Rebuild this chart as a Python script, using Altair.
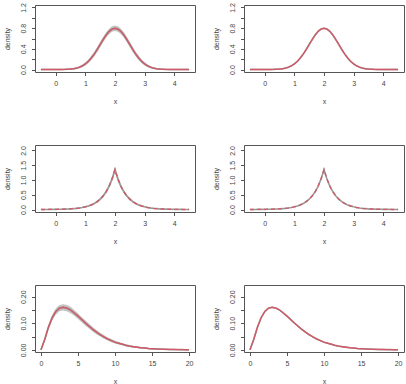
import altair as alt
import pandas as pd

# ---- data ----
x_sym = [round(-0.5 + 0.1 * i, 1) for i in range(51)]

norm_y = [0.000,0.000,0.000,0.000,0.000,0.000,0.001,0.001,0.002,0.005,0.009,0.016,0.027,0.045,0.071,0.108,0.158,0.222,0.299,0.388,0.484,0.579,0.666,0.737,0.782,
          0.798,
          0.782,0.737,0.666,0.579,0.484,0.388,0.299,0.222,0.158,0.108,0.071,0.045,0.027,0.016,0.009,0.005,0.002,0.001,0.001,0.000,0.000,0.000,0.000,0.000,0.000]
norm_hi = [0.003,0.003,0.003,0.003,0.003,0.003,0.005,0.005,0.007,0.012,0.018,0.028,0.043,0.065,0.097,0.140,0.196,0.265,0.346,0.438,0.536,0.632,0.719,0.790,0.835,
           0.851,
           0.835,0.790,0.719,0.632,0.536,0.438,0.346,0.265,0.196,0.140,0.097,0.065,0.043,0.028,0.018,0.012,0.007,0.005,0.005,0.003,0.003,0.003,0.003,0.003,0.003]
norm_lo = [0.000,0.000,0.000,0.000,0.000,0.000,0.000,0.000,0.000,0.000,0.000,0.004,0.011,0.025,0.045,0.076,0.120,0.179,0.252,0.338,0.432,0.526,0.613,0.684,0.729,
           0.745,
           0.729,0.684,0.613,0.526,0.432,0.338,0.252,0.179,0.120,0.076,0.045,0.025,0.011,0.004,0.000,0.000,0.000,0.000,0.000,0.000,0.000,0.000,0.000,0.000,0.000]

lap_y = [0.002,0.002,0.003,0.004,0.005,0.006,0.008,0.010,0.014,0.018,0.023,0.031,0.040,0.053,0.069,0.091,0.119,0.155,0.204,0.267,0.350,0.458,0.600,0.786,1.030,
         1.350,
         1.030,0.786,0.600,0.458,0.350,0.267,0.204,0.155,0.119,0.091,0.069,0.053,0.040,0.031,0.023,0.018,0.014,0.010,0.008,0.006,0.005,0.004,0.003,0.002,0.002]
lap_hi = [0.012,0.012,0.013,0.014,0.015,0.016,0.018,0.020,0.024,0.028,0.035,0.045,0.056,0.071,0.090,0.115,0.146,0.185,0.239,0.307,0.395,0.508,0.660,0.856,1.120,
          1.460,
          1.120,0.856,0.660,0.508,0.395,0.307,0.239,0.185,0.146,0.115,0.090,0.071,0.056,0.045,0.035,0.028,0.024,0.020,0.018,0.016,0.015,0.014,0.013,0.012,0.012]
lap_lo = [0.000,0.000,0.000,0.000,0.000,0.000,0.000,0.000,0.004,0.008,0.011,0.017,0.024,0.035,0.048,0.067,0.092,0.125,0.169,0.227,0.305,0.408,0.540,0.716,0.940,
          1.240,
          0.940,0.716,0.540,0.408,0.305,0.227,0.169,0.125,0.092,0.067,0.048,0.035,0.024,0.017,0.011,0.008,0.004,0.000,0.000,0.000,0.000,0.000,0.000,0.000,0.000]

x_chi = [0.5 * i for i in range(41)]
chi_y = [0.000,0.038,0.084,0.120,0.144,0.157,0.160,0.157,0.150,0.139,0.127,0.114,0.101,0.089,0.077,0.067,0.057,0.049,0.041,0.035,0.029,
         0.025,0.021,0.017,0.014,0.012,0.010,0.008,0.007,0.005,0.0045,0.0036,0.0030,0.0024,0.0020,0.0016,0.0014,0.0010,0.0008,0.0007,0.0005]
chi_hi = [0.003,0.046,0.094,0.131,0.156,0.169,0.172,0.169,0.162,0.150,0.138,0.124,0.111,0.098,0.086,0.075,0.064,0.056,0.047,0.041,0.034,
          0.030,0.025,0.021,0.018,0.015,0.013,0.011,0.010,0.008,0.0075,0.0056,0.0050,0.0044,0.0040,0.0036,0.0034,0.0030,0.0028,0.0027,0.0025]
chi_lo = [0.000,0.030,0.074,0.109,0.132,0.145,0.148,0.145,0.138,0.128,0.116,0.104,0.091,0.080,0.068,0.059,0.050,0.042,0.035,0.029,0.024,
          0.020,0.017,0.013,0.010,0.009,0.007,0.005,0.004,0.002,0.0015,0.0016,0.0010,0.0004,0.0,0.0,0.0,0.0,0.0,0.0,0.0]

xticks_sym = [0, 1, 2, 3, 4]
xticks_chi = [0, 5, 10, 15, 20]
yt_norm = [0.0, 0.2, 0.4, 0.6, 0.8, 1.0, 1.2]
yl_norm = ["0.0", "0.4", "0.8", "1.2"]
yt_lap = [0.0, 0.5, 1.0, 1.5, 2.0]
yl_lap = ["0.0", "0.5", "1.0", "1.5", "2.0"]
yt_chi = [0.0, 0.05, 0.10, 0.15, 0.20]
yl_chi = ["0.00", "0.10", "0.20"]

RED = "#cf5a66"
W, H = 160, 67
FONT = "Liberation Sans"


def panel(xs, ys, lo, hi, xdom, ydom, xt, yt, yl, yfmt, band, dashed):
    df = pd.DataFrame({"x": xs, "y": ys, "lo": lo, "hi": hi})
    lab_list = "[" + ",".join("'" + s + "'" for s in yl) + "]"
    xs_ = alt.Scale(domain=xdom, nice=False, zero=False)
    ys_ = alt.Scale(domain=ydom, nice=False, zero=False)
    xax = alt.Axis(values=xt, format="d", title="x", titleY=29, titleBaseline="middle",
                   labelPadding=4, labelAngle=0)
    yax = alt.Axis(values=yt, format=yfmt, title="density",
                   labelExpr="indexof(" + lab_list + ", datum.label) >= 0 ? datum.label : ''",
                   labelAngle=270, labelAlign="center", labelBaseline="bottom", labelPadding=5,
                   titleAngle=270, titleAlign="center", titleBaseline="middle",
                   titleX=-28, titleY=H / 2)
    base = alt.Chart(df)
    layers = []
    if band:
        layers.append(base.mark_area(color="#a8a8a8", opacity=0.7).encode(
            x=alt.X("x:Q", scale=xs_, axis=xax),
            y=alt.Y("lo:Q", scale=ys_, axis=yax),
            y2="hi:Q"))
    layers.append(base.mark_line(color="#9a9a9a", strokeWidth=1.6).encode(
        x=alt.X("x:Q", scale=xs_, axis=xax),
        y=alt.Y("y:Q", scale=ys_, axis=yax)))
    if dashed:
        red = base.mark_line(color=RED, strokeWidth=1.4, strokeDash=[4, 3])
    else:
        red = base.mark_line(color=RED, strokeWidth=1.4)
    layers.append(red.encode(x=alt.X("x:Q", scale=xs_, axis=xax),
                             y=alt.Y("y:Q", scale=ys_, axis=yax)))
    return alt.layer(*layers).properties(width=W, height=H)


sym_dom = [-0.7, 4.7]
chi_dom = [-0.8, 20.8]
p1 = panel(x_sym, norm_y, norm_lo, norm_hi, sym_dom, [-0.048, 1.248], xticks_sym, yt_norm, yl_norm, ".1f", True, False)
p2 = panel(x_sym, norm_y, norm_y, norm_y, sym_dom, [-0.048, 1.248], xticks_sym, yt_norm, yl_norm, ".1f", False, False)
p3 = panel(x_sym, lap_y, lap_lo, lap_hi, sym_dom, [-0.084, 2.184], xticks_sym, yt_lap, yl_lap, ".1f", True, True)
p4 = panel(x_sym, lap_y, lap_y, lap_y, sym_dom, [-0.084, 2.184], xticks_sym, yt_lap, yl_lap, ".1f", False, True)
p5 = panel(x_chi, chi_y, chi_lo, chi_hi, chi_dom, [-0.008, 0.244], xticks_chi, yt_chi, yl_chi, ".2f", True, False)
p6 = panel(x_chi, chi_y, chi_y, chi_y, chi_dom, [-0.008, 0.244], xticks_chi, yt_chi, yl_chi, ".2f", False, False)

chart = alt.concat(p1, p2, p3, p4, p5, p6, columns=2,
                   spacing=alt.RowColnumber(row=73, column=49), bounds="flush").properties(
    padding={"left": 2, "top": 2, "right": 0, "bottom": 0},
    background="white",
).configure_view(
    stroke="#555555", strokeWidth=1
).configure_axis(
    domain=False, grid=False, ticks=True, tickColor="#555555", tickSize=3.5, tickWidth=1,
    labelFont=FONT, labelFontSize=7, labelColor="#444444",
    titleFont=FONT, titleFontSize=7, titleFontWeight="normal", titleColor="#444444",
)

chart.save("out.html", embed_options={"renderer": "svg", "actions": False})
